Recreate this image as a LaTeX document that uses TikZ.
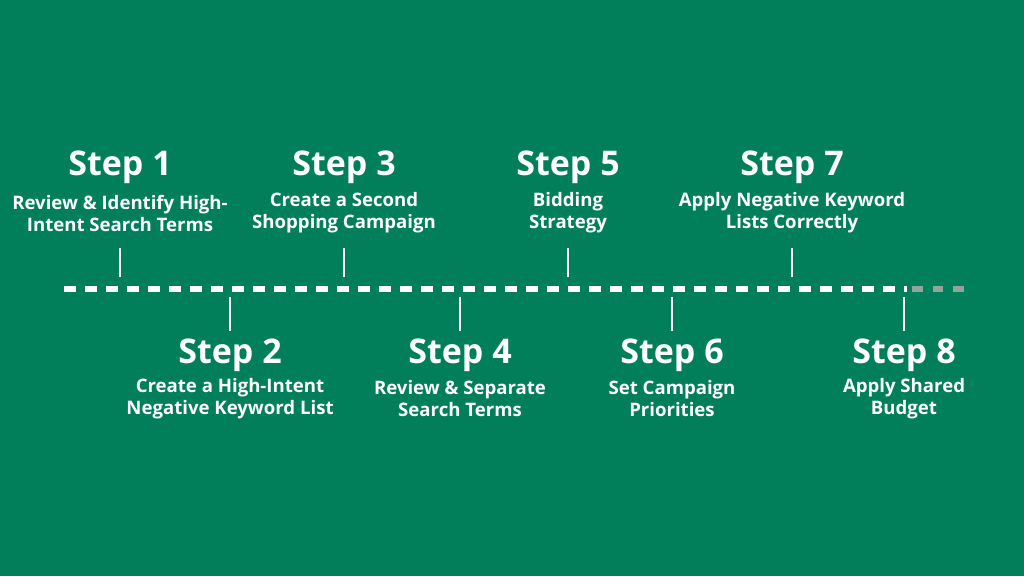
\documentclass[tikz,border=0pt]{standalone}
\usepackage{fontspec}
\setmainfont{Open Sans}
\usepackage{tikz}
\usetikzlibrary{positioning}
\definecolor{bggreen}{RGB}{0,127,90}
\definecolor{fadegrey}{RGB}{145,165,155}
\tikzset{
  steptitle/.style={text=white, font=\bfseries\fontsize{34}{36}\selectfont, inner sep=0pt},
  stepdesc/.style={text=white, font=\bfseries\fontsize{18.6}{22}\selectfont, align=center, inner sep=0pt},
  tick/.style={white, line width=2.5pt},
  timeline/.style={white, line width=6pt, dash pattern=on 12pt off 9pt}
}

\begin{document}
\begin{tikzpicture}[x=1pt, y=-1pt]
  \fill[bggreen] (0,0) rectangle (1024,576);
  \useasboundingbox (0,0) rectangle (1024,576);

  % steps above the line
  \node[steptitle] (s1) at (120,167) {Step 1};
  \node[stepdesc] (d1) at (120,213) {Review \& Identify High-\\Intent Search Terms};
  \node[steptitle] (s3) at (344,167) {Step 3};
  \node[stepdesc] (d3) at (344,213) {Create a Second\\Shopping Campaign};
  \node[steptitle] (s5) at (568,167) {Step 5};
  \node[stepdesc] (d5) at (568,213) {Bidding\\Strategy};
  \node[steptitle] (s7) at (792,167) {Step 7};
  \node[stepdesc] (d7) at (792,213) {Apply Negative Keyword\\Lists Correctly};

  % steps below the line
  \node[steptitle] (s2) at (230,355) {Step 2};
  \node[stepdesc] (d2) at (230,399) {Create a High-Intent\\Negative Keyword List};
  \node[steptitle] (s4) at (460,355) {Step 4};
  \node[stepdesc] (d4) at (460,399) {Review \& Separate\\Search Terms};
  \node[steptitle] (s6) at (672,355) {Step 6};
  \node[stepdesc] (d6) at (672,399) {Set Campaign\\Priorities};
  \node[steptitle] (s8) at (904,355) {Step 8};
  \node[stepdesc] (d8) at (904,399) {Apply Shared\\Budget};

  % timeline
  \coordinate (lineA) at (64,289);
  \coordinate (lineB) at (907,289);
  \coordinate (fadeA) at (912,289);
  \coordinate (fadeB) at (966,289);
  \draw[timeline] (lineA) -- (lineB);
  \draw[timeline, fadegrey, dash pattern=on 10.5pt off 10pt] (fadeA) -- (fadeB);

  % ticks
  \foreach \x in {120,344,568,792} {
    \coordinate (ta\x) at (\x,248);
    \coordinate (tb\x) at (\x,277);
    \draw[tick] (ta\x) -- (tb\x);
  }
  \foreach \x in {230,460,672,904} {
    \coordinate (ta\x) at (\x,297);
    \coordinate (tb\x) at (\x,331);
    \draw[tick] (ta\x) -- (tb\x);
  }
\end{tikzpicture}
\end{document}
